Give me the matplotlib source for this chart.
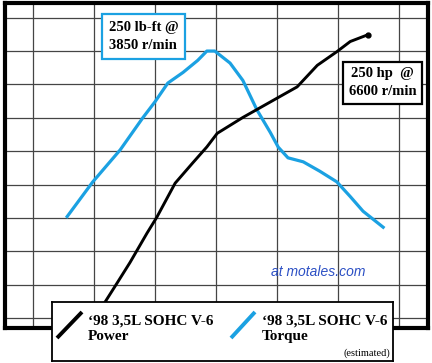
import matplotlib.pyplot as plt

# torque curve (lb-ft) vs engine speed (r/min)
rpm_torque = [1560, 1980, 2430, 2800, 3000, 3210, 3460, 3700, 3850, 3980, 4230, 4440,
              4670, 4890, 5020, 5180, 5430, 5700, 5980, 6200, 6410, 6740]
torque = [126, 152, 176, 200, 212, 226, 234, 243, 250, 250, 241, 228,
          206, 189, 178, 170, 167, 160, 152, 141, 130, 118]

# power curve (hp) vs engine speed (r/min)
rpm_power = [2020, 2180, 2380, 2590, 2870, 3030, 3330, 3620, 3850, 4020, 4440,
             5000, 5330, 5660, 5980, 6200, 6490]
power = [0, 14, 31, 49, 75, 89, 119, 137, 151, 163, 177,
         194, 204, 223, 235, 244, 250]

grid_rpm = [1000, 2000, 3000, 4000, 5000, 6000, 7000]
grid_torque = [50 + 25 * k for k in range(10)]

BLUE = "#1ba1e2"
SERIF = ["Liberation Serif", "DejaVu Serif"]


def draw():
    fig = plt.figure(figsize=(4.32, 3.63), dpi=100)
    ax = fig.add_axes([5 / 432, 35 / 363, 423 / 432, 325 / 363])
    ax.set_xlim(541, 7475)
    ax.set_ylim(42.5, 286)
    ax.set_xticks(grid_rpm)
    ax.set_yticks(grid_torque)
    ax.grid(color="#454545", lw=0.9)
    ax.tick_params(length=0, labelleft=False, labelbottom=False)
    for sp in ax.spines.values():
        sp.set_linewidth(3)
        sp.set_color("black")

    ax.plot(rpm_torque, torque, color=BLUE, lw=2.3, solid_joinstyle="round")

    ax2 = ax.twinx()
    ax2.set_ylim(-8.8, 278)
    ax2.set_yticks([])
    for sp in ax2.spines.values():
        sp.set_visible(False)
    ax2.plot(rpm_power, power, color="black", lw=2.1, solid_joinstyle="round")
    ax2.plot(rpm_power[-1], power[-1], "o", color="black", ms=3.5)

    ax2.text(0.327, 0.897, "250 lb-ft @\n3850 r/min", transform=ax2.transAxes,
             ha="center", va="center", fontsize=10.5, fontweight="bold",
             family=SERIF, linespacing=1.5,
             bbox=dict(boxstyle="square,pad=0.45", fc="white", ec=BLUE, lw=1.6))
    ax2.text(0.892, 0.754, "250 hp  @\n6600 r/min", transform=ax2.transAxes,
             ha="center", va="center", fontsize=10.5, fontweight="bold",
             family=SERIF, linespacing=1.5,
             bbox=dict(boxstyle="square,pad=0.4", fc="white", ec="black", lw=1.6))
    ax2.text(0.74, 0.172, "at motales.com", transform=ax2.transAxes,
             ha="center", va="center", fontsize=10, style="italic",
             family=["Liberation Sans", "DejaVu Sans"], color="#2b4fc4")

    # legend box
    lg = fig.add_axes([52 / 432, 2 / 363, 341 / 432, 59 / 363])
    lg.set_xlim(0, 341)
    lg.set_ylim(59, 0)
    lg.set_xticks([])
    lg.set_yticks([])
    for sp in lg.spines.values():
        sp.set_linewidth(1.3)
    lg.plot([5, 30], [36, 10], color="black", lw=2.8, solid_capstyle="butt")
    lg.plot([179, 203], [36, 10], color=BLUE, lw=2.8, solid_capstyle="butt")
    lg.text(36, 27, "\u201898 3,5L SOHC V-6\nPower", ha="left", va="center",
            fontsize=11, fontweight="bold", family=SERIF, linespacing=1.2)
    lg.text(210, 27, "\u201898 3,5L SOHC V-6\nTorque", ha="left", va="center",
            fontsize=11, fontweight="bold", family=SERIF, linespacing=1.2)
    lg.text(338, 51, "(estimated)", ha="right", va="center", fontsize=7.5,
            family=SERIF)

    fig.savefig("out.png", dpi=100)


def main():
    draw()


if __name__ == "__main__":
    main()
